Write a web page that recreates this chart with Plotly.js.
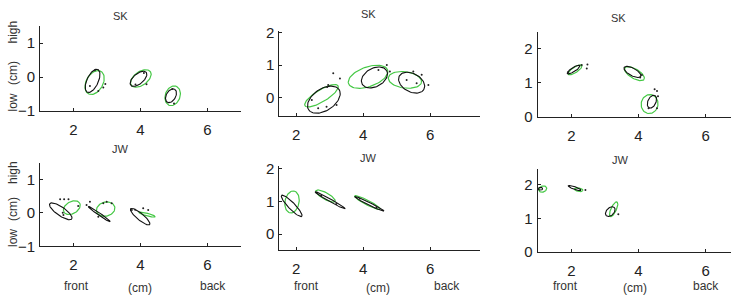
<!DOCTYPE html>
<html><head><meta charset="utf-8">
<script src="https://cdn.plot.ly/plotly-3.0.1.min.js"></script>
<style>html,body{margin:0;padding:0;background:#fff}#chart{width:731px;height:298px}</style>
</head><body><div id="chart"></div>
<script>
// Ellipse rows: [centreX, centreY, semiMajor, semiMinor, angleDeg]
const sk1Black = [[2.57,-0.11,0.37,0.17,65],[3.94,-0.05,0.30,0.15,40],[4.91,-0.55,0.22,0.14,60]];
const sk1Green = [[2.63,-0.16,0.38,0.25,60],[4.01,-0.04,0.35,0.20,35],[4.96,-0.55,0.30,0.22,70]];
const sk1DotsX = [2.64,2.89,2.74,2.49,2.95,4.18,4.1,3.85,4.95,5.0];
const sk1DotsY = [0.20,-0.31,-0.41,-0.26,-0.2,-0.21,0.12,-0.22,-0.35,-0.78];

const sk2Black = [[2.83,-0.06,0.55,0.33,35],[4.34,0.62,0.42,0.28,30],[5.45,0.46,0.42,0.28,-30]];
const sk2Green = [[2.76,0.06,0.58,0.18,32],[4.15,0.64,0.62,0.30,20],[5.25,0.545,0.50,0.25,-8]];
const sk2DotsX = [3.11,3.31,2.96,2.93,2.47,2.66,2.91,3.21,4.71,4.46,4.80,5.30,5.60,5.95,5.50,5.75];
const sk2DotsY = [0.75,0.59,0.39,0.33,-0.07,-0.32,-0.28,-0.22,1.00,0.85,0.80,0.54,0.44,0.39,0.80,0.70];

const sk3Black = [[2.07,1.38,0.22,0.06,32],[3.82,1.31,0.28,0.11,-28],[4.40,0.44,0.20,0.12,65]];
const sk3Green = [[2.11,1.37,0.24,0.08,32],[3.88,1.26,0.33,0.14,-30],[4.33,0.37,0.28,0.25,80]];
const sk3DotsX = [2.31,2.48,2.46,1.9,4.05,4.1,4.55,4.48,4.58,4.3,4.55];
const sk3DotsY = [1.51,1.53,1.41,1.30,1.15,1.22,0.75,0.80,0.60,0.25,0.25];

const jw1Black = [[1.62,0.05,0.40,0.13,-35],[2.77,-0.035,0.40,0.035,-35],[3.99,-0.11,0.37,0.10,-40]];
const jw1Green = [[1.95,0.16,0.27,0.18,30],[2.96,0.115,0.28,0.21,15],[4.20,-0.05,0.25,0.04,-15]];
const jw1DotsX = [1.6,1.72,1.85,1.68,1.7,2.14,2.39,2.49,2.89,2.99,3.14,2.74,3.74,3.84,4.08,4.23];
const jw1DotsY = [0.41,0.41,0.41,0.01,-0.06,0.21,0.24,0.34,0.29,0.34,0.29,-0.11,0.09,0.10,0.14,0.09];

const jw2Black = [[1.87,0.86,0.44,0.10,-47],[3.02,1.03,0.52,0.04,-30],[4.19,0.92,0.49,0.04,-27]];
const jw2Green = [[1.88,0.98,0.34,0.21,80],[2.88,1.16,0.33,0.10,-30],[4.13,0.96,0.43,0.07,-28]];
const jw2DotsX = [2.75,3.2,3.9,4.4];
const jw2DotsY = [1.18,0.92,1.08,0.82];

const jw3Black = [[1.08,1.88,0.07,0.04,0],[2.10,1.90,0.20,0.04,-20],[3.16,1.20,0.17,0.11,45]];
const jw3Green = [[1.15,1.87,0.12,0.09,20],[2.22,1.85,0.13,0.05,-10],[3.26,1.27,0.24,0.08,65]];
const jw3DotsX = [2.42,3.4];
const jw3DotsY = [1.84,1.12];

const panelTitles = ['SK','SK','SK','JW','JW','JW'];
const xTicks = [2,4,6];

const W = 731, H = 298;
function ellipsePath(rows){
  const xs=[], ys=[];
  rows.forEach(r=>{
    const [cx,cy,a,b,ang]=r; const t=ang*Math.PI/180;
    for(let k=0;k<=72;k++){
      const p=2*Math.PI*k/72;
      xs.push(cx + a*Math.cos(t)*Math.cos(p) - b*Math.sin(t)*Math.sin(p));
      ys.push(cy + a*Math.sin(t)*Math.cos(p) + b*Math.cos(t)*Math.sin(p));
    }
    xs.push(null); ys.push(null);
  });
  return {xs, ys};
}

const panelData = [
  [sk1Black, sk1Green, sk1DotsX, sk1DotsY],
  [sk2Black, sk2Green, sk2DotsX, sk2DotsY],
  [sk3Black, sk3Green, sk3DotsX, sk3DotsY],
  [jw1Black, jw1Green, jw1DotsX, jw1DotsY],
  [jw2Black, jw2Green, jw2DotsX, jw2DotsY],
  [jw3Black, jw3Green, jw3DotsX, jw3DotsY]
];
// pixel boxes [left, right, top, bottom], axis ranges
const boxes = [
  [40,241,26.3,111],[279.3,480.3,31,115.5],[537.7,731,32.3,116.7],
  [40,241,163,246.3],[279.3,480.3,166.3,249.7],[537.7,731,168.7,252]
];
const xRanges = [[1,7],[1.5,7.5],[1,6.753],[1,7],[1.5,7.5],[1,6.753]];
const yRanges = [[-1,1.5],[-0.544,2.04],[0,2.47],[-1,1.5],[-0.48,2.07],[0,2.475]];
const yTicks = [[-1,0,1],[0,1,2],[0,1,2],[-1,0,1],[0,1,2],[0,1,2]];

const traces=[]; const layout={width:W,height:H,margin:{l:0,r:0,t:0,b:0},
  paper_bgcolor:'#fff',plot_bgcolor:'#fff',showlegend:false,annotations:[]};
const tickFont={family:'Liberation Sans, Arial, sans-serif',size:15,color:'#222'};
panelData.forEach((pd,i)=>{
  const n=i===0?'':String(i+1);
  const xa='x'+n, ya='y'+n;
  const blk=ellipsePath(pd[0]), grn=ellipsePath(pd[1]);
  traces.push({x:grn.xs,y:grn.ys,xaxis:xa,yaxis:ya,mode:'lines',line:{color:'#45c845',width:1.2},hoverinfo:'skip'});
  traces.push({x:blk.xs,y:blk.ys,xaxis:xa,yaxis:ya,mode:'lines',line:{color:'#111',width:1.1},hoverinfo:'skip'});
  traces.push({x:pd[2],y:pd[3],xaxis:xa,yaxis:ya,mode:'markers',marker:{color:'#222',size:2},hoverinfo:'skip'});
  const b=boxes[i];
  layout['xaxis'+n]={domain:[b[0]/W,b[1]/W],range:xRanges[i],anchor:ya,tickvals:xTicks,
    showgrid:false,zeroline:false,showline:true,linecolor:'#222',linewidth:1,
    ticks:'inside',ticklen:3,tickcolor:'#222',tickfont:tickFont,ticklabelstandoff:5,fixedrange:true};
  layout['yaxis'+n]={domain:[1-b[3]/H,1-b[2]/H],range:yRanges[i],anchor:xa,tickvals:yTicks[i],
    showgrid:false,zeroline:false,showline:true,linecolor:'#222',linewidth:1,
    ticks:'inside',ticklen:3,tickcolor:'#222',tickfont:tickFont,ticklabelstandoff:1,fixedrange:true};
});

function ann(text,px,py,size,angle){
  layout.annotations.push({text:text,x:px/W,y:1-py/H,xref:'paper',yref:'paper',
    xanchor:'center',yanchor:'middle',showarrow:false,textangle:angle||0,
    font:{family:'Liberation Sans, Arial, sans-serif',size:size,color:'#333'}});
}
const titlePos=[[120.7,16],[368.3,14],[618.3,18.3],[120,149],[368.3,158],[620,159.7]];
panelTitles.forEach((t,i)=>ann(t,titlePos[i][0],titlePos[i][1],11));
// vertical axis labels
[[32.5,73,102.5],[173,209,238]].forEach(p=>{
  ann('high',13,p[0],12,-90); ann('(cm)',13,p[1],12,-90); ann('low',13,p[2],12,-90);
});
// horizontal axis labels
[[76.7,140,213.3],[306,378.3,446.7],[565,635,705.7]].forEach(p=>{
  ann('front',p[0],286.3,12); ann('(cm)',p[1],288,12); ann('back',p[2],286.3,12);
});

Plotly.newPlot('chart',traces,layout,{staticPlot:true,displayModeBar:false});
</script></body></html>
